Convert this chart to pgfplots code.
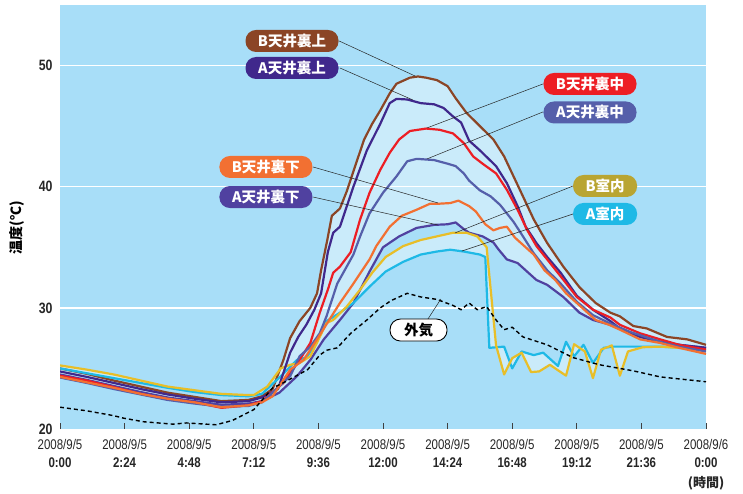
\documentclass[border=0pt]{standalone}
\usepackage{fontspec}
\setmainfont{Liberation Sans}
\newfontfamily\cjk{Noto Sans CJK JP}
\newfontfamily\numfont[FakeStretch=0.82]{Liberation Sans}
\usepackage{pgfplots}
\pgfplotsset{compat=1.18}
\usepgfplotslibrary{fillbetween}
\usetikzlibrary{calc}
\definecolor{bg}{RGB}{168,222,248}
\definecolor{cbrown}{RGB}{139,69,38}
\definecolor{capurple}{RGB}{64,40,140}
\definecolor{cred}{RGB}{237,30,36}
\definecolor{cslate}{RGB}{85,95,170}
\definecolor{corange}{RGB}{242,112,50}
\definecolor{cadown}{RGB}{80,65,160}
\definecolor{cyellow}{RGB}{232,190,40}
\definecolor{cyellowlab}{RGB}{185,165,50}
\definecolor{ccyan}{RGB}{30,185,230}
\tikzset{callout/.style={rounded corners=10.5pt, minimum height=22pt, minimum width=93pt, inner sep=0pt, text=white, font=\cjk\bfseries\fontsize{14.5}{15}\selectfont},
leader/.style={black!85, line width=0.5pt},
ser/.style={line width=2.2pt, line join=round}}
\begin{document}
\begin{tikzpicture}
\begin{axis}[name=ax, width=646pt, height=424pt, scale only axis,
  xmin=0, xmax=24, ymin=20, ymax=55, set layers,
  axis background/.style={fill=bg},
  axis line style={draw=none},
  xtick={0,2.4,4.8,7.2,9.6,12,14.4,16.8,19.2,21.6,24},
  xticklabels={{2008/9/5\\\bfseries 0:00},{2008/9/5\\\bfseries 2:24},{2008/9/5\\\bfseries 4:48},{2008/9/5\\\bfseries 7:12},{2008/9/5\\\bfseries 9:36},{2008/9/5\\\bfseries 12:00},{2008/9/5\\\bfseries 14:24},{2008/9/5\\\bfseries 16:48},{2008/9/5\\\bfseries 19:12},{2008/9/5\\\bfseries 21:36},{2008/9/6\\\bfseries 0:00}},
  xtick pos=bottom, tick align=inside, major tick length=6pt,
  xtick style={draw=black!75, line width=0.8pt},
  ytick={30,40,50}, yticklabels={30,40,50},
  extra y ticks={20}, extra y tick labels={20},
  extra y tick style={grid=none},
  ymajorgrids, grid style={white, line width=1.3pt},
  ytick style={draw=none},
  ticklabel style={font=\numfont\fontsize{14}{17.5}\selectfont, text=black!85},
  xticklabel style={align=center, yshift=-7pt},
  yticklabel style={xshift=-4pt, font=\numfont\bfseries\fontsize{15}{17}\selectfont},
  ylabel={\cjk\bfseries 温度(℃)},
  ylabel style={at={(axis description cs:-0.066,0.475)}, anchor=center, font=\fontsize{14}{14}\selectfont},
]
\addplot[name path=bup, cbrown, ser] coordinates {(0,25.0)(1,24.55)(2,24.0)(3,23.5)(4,23.0)(5,22.65)(6,22.3)(7,22.4)(7.5,22.7)(7.9,23.3)(8.3,25.7)(8.55,27.5)(8.9,28.9)(9.3,30.0)(9.55,31.2)(9.7,33.1)(9.93,35.6)(10.1,37.6)(10.4,38.2)(10.65,39.6)(10.95,41.6)(11.3,43.9)(11.6,45.2)(11.9,46.3)(12.25,47.7)(12.5,48.5)(13.0,49.0)(13.3,49.1)(13.6,49.0)(14.0,48.8)(14.4,48.3)(14.7,47.3)(15.1,46.1)(15.6,45.0)(16.1,43.9)(16.5,42.5)(16.85,40.85)(17.2,39.2)(17.6,37.3)(18.1,35.35)(18.7,33.4)(19.3,31.7)(19.9,30.4)(20.45,29.6)(20.8,29.3)(21.3,28.5)(21.8,28.3)(22.55,27.6)(23.3,27.4)(24,26.95)};
\addplot[name path=adown, cadown, ser] coordinates {(0,24.5)(1,24.05)(2,23.55)(3,23.05)(4,22.6)(5,22.3)(6,22.0)(7,22.1)(7.5,22.3)(8.15,23.0)(8.8,24.35)(9.3,25.7)(9.8,27.4)(10.4,29.0)(10.9,30.4)(11.5,33.0)(12.0,35.0)(12.6,35.9)(13.25,36.6)(13.9,36.85)(14.4,36.9)(14.7,37.05)(15.0,36.5)(15.2,36.2)(15.7,35.9)(16.1,35.4)(16.3,34.8)(16.6,34.0)(17.0,33.7)(17.4,32.9)(17.7,32.3)(18.1,31.9)(18.7,30.9)(19.3,29.6)(19.8,29.0)(20.45,28.6)(21.3,27.8)(22.3,27.2)(23.0,26.95)(24,26.7)};
\addplot[name path=acyan, ccyan, ser] coordinates {(0,25.0)(1,24.6)(2,24.2)(3,23.8)(4,23.4)(5,23.05)(6,22.8)(7,22.7)(7.5,22.9)(8.2,24.35)(8.8,25.7)(9.15,25.9)(9.5,27.0)(9.9,28.9)(10.4,29.6)(10.9,30.4)(11.5,31.75)(12.1,33.0)(12.75,33.8)(13.4,34.4)(14.0,34.65)(14.5,34.8)(15.0,34.65)(15.6,34.4)(15.8,34.2)(15.95,26.7)(16.5,26.8)(16.8,25.0)(17.15,26.4)(17.6,26.1)(17.95,26.3)(18.5,25.2)(18.8,27.2)(19.1,26.0)(19.45,26.95)(19.8,25.45)(20.2,26.7)(20.55,26.8)(22.3,26.8)(24,26.6)};
\addplot[name path=byellow, cyellow, ser] coordinates {(0,25.25)(1,24.9)(2,24.5)(3,24.0)(4,23.5)(5,23.2)(6,22.9)(7,22.8)(7.2,22.8)(7.7,23.5)(8.2,25.0)(8.55,25.3)(8.9,25.45)(9.3,26.0)(9.65,27.6)(9.9,28.75)(10.15,29.0)(10.65,30.1)(11.15,31.5)(11.6,32.9)(12.1,34.2)(12.75,35.1)(13.4,35.6)(14.0,35.9)(14.6,36.2)(15.1,36.2)(15.5,35.9)(15.85,35.0)(16.2,26.9)(16.5,24.5)(16.8,25.85)(17.15,26.3)(17.5,24.7)(17.8,24.75)(18.2,25.3)(18.8,24.4)(19.1,27.0)(19.5,26.4)(19.8,24.2)(20.1,26.55)(20.5,26.9)(20.8,24.4)(21.1,26.4)(21.65,26.75)(22.3,26.8)(24,26.55)};
\addplot[white, fill opacity=0.4, draw=none] fill between[of=bup and adown];
\addplot[white, fill opacity=0.4, draw=none] fill between[of=byellow and acyan];
\addplot[capurple, ser] coordinates {(0,24.75)(1,24.3)(2,23.8)(3,23.3)(4,22.85)(5,22.5)(6,22.2)(7,22.3)(7.5,22.6)(8.1,23.3)(8.55,26.3)(8.85,27.6)(9.15,28.6)(9.45,29.85)(9.7,31.2)(9.95,34.6)(10.15,36.2)(10.4,36.7)(10.9,40.0)(11.4,43.0)(11.9,45.2)(12.25,46.9)(12.5,47.25)(12.9,47.2)(13.4,46.9)(13.9,46.8)(14.25,46.5)(14.6,45.8)(14.9,45.3)(15.2,43.8)(15.6,43.0)(16.2,41.7)(16.6,40.3)(17.0,38.4)(17.3,36.7)(17.7,35.35)(18.1,34.2)(18.6,32.9)(19.2,31.0)(19.8,29.85)(20.45,28.9)(20.8,28.3)(21.55,27.6)(22.3,27.2)(23.0,26.95)(24,26.7)};
\addplot[cred, ser] coordinates {(0,24.4)(1,24.0)(2,23.45)(3,22.9)(4,22.45)(5,22.2)(6,21.75)(7,21.95)(7.5,22.3)(8.3,23.8)(8.9,25.7)(9.3,27.1)(9.65,29.6)(9.95,31.5)(10.15,32.9)(10.4,33.4)(10.8,34.6)(11.15,37.3)(11.5,39.5)(11.9,41.4)(12.25,42.8)(12.6,43.9)(13.0,44.6)(13.6,44.8)(14.1,44.7)(14.6,44.4)(15.0,43.6)(15.35,42.5)(15.7,41.9)(16.2,41.1)(16.6,39.75)(17.0,38.1)(17.35,36.45)(17.7,35.1)(18.1,34.0)(18.6,32.6)(19.2,30.9)(19.8,29.85)(20.45,29.2)(20.8,28.6)(21.55,27.9)(22.3,27.4)(23.0,26.95)(24,26.55)};
\addplot[cslate, ser] coordinates {(0,24.25)(1,23.8)(2,23.3)(3,22.85)(4,22.4)(5,22.1)(6,21.85)(7,21.9)(7.5,22.2)(8.55,24.35)(8.9,26.0)(9.3,26.8)(9.65,27.9)(9.9,29.3)(10.3,32.0)(10.65,33.4)(10.9,34.4)(11.15,35.9)(11.5,37.8)(12.0,39.5)(12.5,40.85)(12.9,42.1)(13.25,42.3)(13.9,42.2)(14.4,41.9)(14.7,41.7)(15.0,41.1)(15.2,40.5)(15.6,39.7)(16.0,39.2)(16.35,38.5)(16.85,37.1)(17.2,35.9)(17.6,34.5)(18.1,33.1)(18.6,32.0)(19.2,30.5)(19.8,29.4)(20.45,28.7)(21.2,28.0)(22.3,27.2)(23.0,26.8)(24,26.4)};
\addplot[corange, ser] coordinates {(0,24.3)(1,23.85)(2,23.4)(3,22.9)(4,22.5)(5,22.2)(6,21.8)(7,21.95)(7.5,22.2)(7.9,22.7)(8.55,24.9)(9.05,25.7)(9.55,27.4)(10.0,29.0)(10.4,30.4)(10.9,32.0)(11.5,34.0)(11.75,35.1)(12.25,36.7)(12.7,37.6)(13.25,38.1)(13.75,38.6)(14.1,38.6)(14.5,38.65)(14.8,38.85)(15.2,38.4)(15.45,37.95)(15.8,36.9)(16.1,36.4)(16.35,36.6)(16.6,36.7)(16.9,35.8)(17.3,35.0)(17.6,34.4)(18.0,33.1)(18.4,32.3)(18.8,31.2)(19.35,30.1)(19.9,29.0)(20.4,28.6)(20.8,28.2)(21.55,27.4)(22.3,27.1)(23.0,26.7)(24,26.2)};
\addplot[black, line width=1.4pt, dash pattern=on 4pt off 3pt] coordinates {(0,21.8)(1,21.5)(2,21.1)(2.35,20.9)(3.1,20.6)(4.2,20.4)(4.7,20.5)(5.8,20.35)(6.4,20.7)(7.2,21.6)(7.9,23.4)(8.2,23.7)(9.2,24.9)(9.65,26.1)(9.9,26.5)(10.3,26.7)(10.8,27.9)(11.4,29.0)(11.9,30.0)(12.3,30.6)(12.9,31.2)(13.4,30.9)(14.0,30.7)(14.6,30.2)(14.9,29.85)(15.2,30.4)(15.5,29.85)(15.85,30.1)(16.2,29.0)(16.5,28.2)(16.8,28.4)(17.2,27.6)(18.1,26.95)(19.05,25.9)(20.05,25.3)(21.3,24.8)(22.3,24.3)(24,23.9)};
% leaders
\draw[leader] (axis cs:10.37,52.03) -- (axis cs:13.19,49.14);
\draw[leader] (axis cs:10.40,49.80) -- (axis cs:13.11,47.16);
\draw[leader] (axis cs:17.94,48.48) -- (axis cs:13.63,44.85);
\draw[leader] (axis cs:17.94,46.17) -- (axis cs:13.63,42.29);
\draw[leader] (axis cs:9.40,41.63) -- (axis cs:14.04,38.66);
\draw[leader] (axis cs:9.40,39.15) -- (axis cs:14.04,36.84);
\draw[leader] (axis cs:19.06,40.06) -- (axis cs:14.67,36.18);
\draw[leader] (axis cs:19.06,37.75) -- (axis cs:14.93,34.69);
\draw[leader] (axis cs:13.67,29.08) -- (axis cs:14.15,30.73);
% labels
\node[callout, fill=cbrown] at (axis cs:8.62,52.03) {B天井裏上};
\node[callout, fill=capurple] at (axis cs:8.62,49.80) {A天井裏上};
\node[callout, fill=cred] at (axis cs:19.69,48.48) {B天井裏中};
\node[callout, fill=cslate] at (axis cs:19.69,46.13) {A天井裏中};
\node[callout, fill=corange] at (axis cs:7.65,41.63) {B天井裏下};
\node[callout, fill=cadown] at (axis cs:7.65,39.15) {A天井裏下};
\node[callout, fill=cyellowlab, minimum width=64pt] at (axis cs:20.25,40.06) {B室内};
\node[callout, fill=ccyan, minimum width=64pt] at (axis cs:20.25,37.75) {A室内};
\node[callout, fill=white, draw=black, line width=0.9pt, text=black, minimum width=57pt] at (axis cs:13.32,28.17) {外気};
\end{axis}
\node[font=\cjk\bfseries\fontsize{13}{13}\selectfont, text=black!85] at ($(ax.south east)+(0,-54pt)$) {(時間)};
\path ($(ax.south west)+(-60pt,-61pt)$) rectangle ($(ax.north east)+(37pt,5pt)$);
\end{tikzpicture}
\end{document}
